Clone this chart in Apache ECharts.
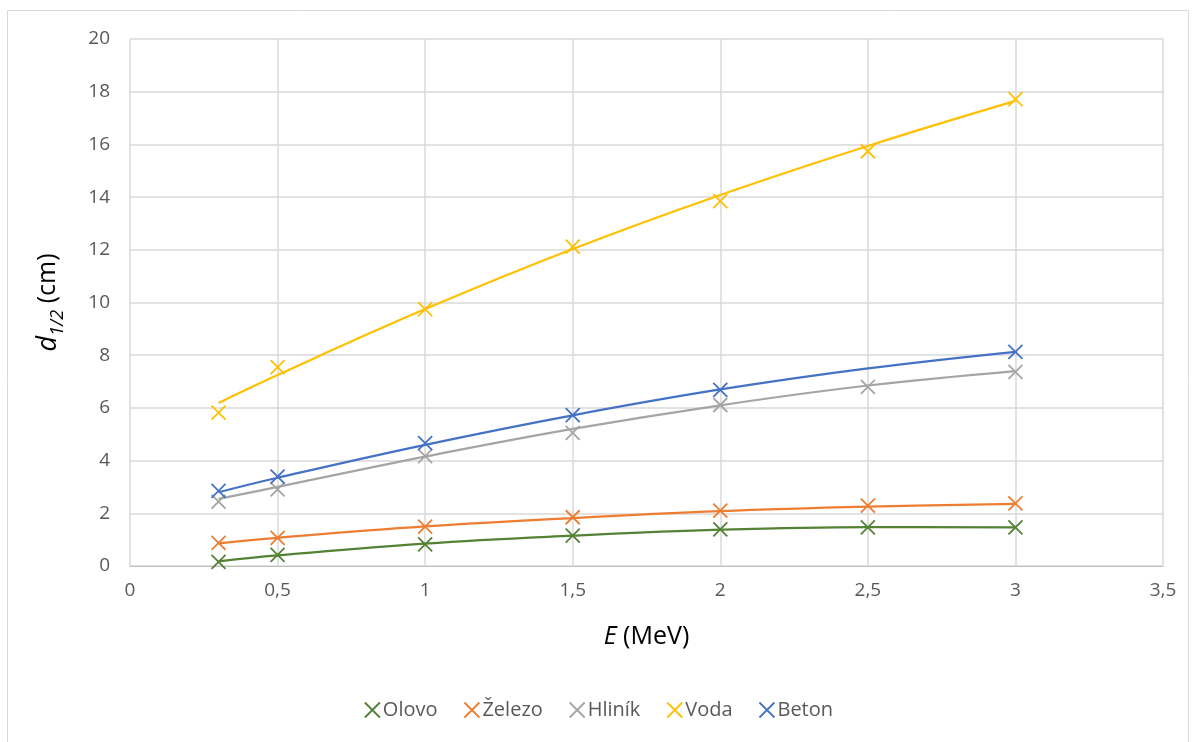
<!DOCTYPE html>
<html>
<head>
<meta charset="utf-8">
<script src="https://cdn.jsdelivr.net/npm/echarts@6/dist/echarts.min.js"></script>
<style>
  html, body { margin: 0; padding: 0; background: #fff; }
  #chart { width: 1197px; height: 742px; }
</style>
</head>
<body>
<div id="chart"></div>
<script>
// energie (MeV)
const energies = [0.3, 0.5, 1, 1.5, 2, 2.5, 3]
const materials = ['Olovo', 'Železo', 'Hliník', 'Voda', 'Beton']
const colors = ['#548235', '#ED7D31', '#A5A5A5', '#FFC000', '#4472C4']

// namerene body d1/2 (cm), null = chybi
const olovo = [0.16, 0.42, 0.82, 1.15, 1.39, 1.47, 1.47]
const zelezo = [0.88, 1.07, 1.49, 1.85, 2.10, 2.29, 2.38]
const hlinik = [2.44, 2.91, 4.17, 5.05, 6.11, 6.80, 7.37]
const voda = [5.82, 7.55, 9.75, 12.12, 13.85, 15.74, 17.72]
const beton = [2.85, 3.39, 4.66, 5.73, 6.68, null, 8.13]

// spojnice trendu
const olovoTrend = [0.18, 0.40, 0.85, 1.15, 1.38, 1.48, 1.47]
const zelezoTrend = [0.86, 1.07, 1.50, 1.82, 2.08, 2.25, 2.36]
const hlinikTrend = [2.55, 3.00, 4.15, 5.20, 6.10, 6.85, 7.40]
const vodaTrend = [6.19, 7.25, 9.75, 12.03, 14.08, 15.94, 17.65]
const betonTrend = [2.80, 3.35, 4.60, 5.72, 6.70, 7.50, 8.13]

const points = [olovo, zelezo, hlinik, voda, beton]
const trends = [olovoTrend, zelezoTrend, hlinikTrend, vodaTrend, betonTrend]

const X_SYMBOL = 'path://M0,0L10,10M10,0L0,10'
const FONT = '"Open Sans", "Noto Sans", sans-serif'

const pairs = (vals) => energies.map((e, i) => [e, vals[i]]).filter(p => p[1] !== null)

const series = []
materials.forEach((name, i) => {
  series.push({
    name,
    type: 'line',
    smooth: 0.4,
    showSymbol: false,
    symbol: 'none',
    data: pairs(trends[i]),
    lineStyle: { color: colors[i], width: 2.25 },
    itemStyle: { color: colors[i] },
    silent: true,
    z: 2
  })
  series.push({
    name,
    type: 'scatter',
    symbol: X_SYMBOL,
    symbolSize: 14,
    data: pairs(points[i]),
    itemStyle: { color: 'rgba(0,0,0,0)', borderColor: colors[i], borderWidth: 1.8, opacity: 1 },
    z: 3
  })
})

const chart = echarts.init(document.getElementById('chart'))
chart.setOption({
  animation: false,
  textStyle: { fontFamily: FONT },
  graphic: [{
    type: 'rect',
    shape: { x: 7.5, y: 10.5, width: 1181, height: 760 },
    style: { fill: 'none', stroke: '#d9d9d9', lineWidth: 1 },
    silent: true
  }],
  grid: { left: 130, right: 34, top: 39, bottom: 176 },
  legend: {
    bottom: 17,
    left: 'center',
    itemWidth: 15,
    itemHeight: 15,
    itemGap: 26,
    textStyle: { fontSize: 20, color: '#595959', fontFamily: FONT, padding: [0, 0, 0, -2] },
    data: materials.map((name, i) => ({
      name,
      icon: X_SYMBOL,
      itemStyle: { color: 'rgba(0,0,0,0)', borderColor: colors[i], borderWidth: 1.8 }
    }))
  },
  xAxis: {
    type: 'value',
    min: 0,
    max: 3.5,
    interval: 0.5,
    name: '{i|E} (MeV)',
    nameLocation: 'middle',
    nameGap: 58,
    nameTextStyle: {
      fontSize: 25, color: '#000', fontFamily: FONT,
      rich: { i: { fontSize: 25, fontStyle: 'italic', color: '#000', fontFamily: FONT } }
    },
    axisLine: { show: true, lineStyle: { color: '#bfbfbf', width: 1 } },
    axisTick: { show: false },
    axisLabel: {
      fontSize: 19, color: '#595959', margin: 15,
      formatter: v => String(v).replace('.', ',')
    },
    splitLine: { show: true, lineStyle: { color: '#d9d9d9', width: 1.5 } }
  },
  yAxis: {
    type: 'value',
    min: 0,
    max: 20,
    interval: 2,
    name: '{d|d}{s|1/2}{n| (cm)}',
    nameLocation: 'middle',
    nameRotate: 90,
    nameGap: 63,
    nameTextStyle: {
      rich: {
        d: { fontSize: 27, fontStyle: 'italic', color: '#000', fontFamily: FONT, lineHeight: 38, verticalAlign: 'middle' },
        s: { fontSize: 18, fontStyle: 'italic', color: '#000', fontFamily: FONT, lineHeight: 38, verticalAlign: 'bottom' },
        n: { fontSize: 25, color: '#000', fontFamily: FONT, lineHeight: 38, verticalAlign: 'middle' }
      }
    },
    axisLine: { show: false },
    axisTick: { show: false },
    axisLabel: { fontSize: 19, color: '#595959', margin: 20 },
    splitLine: { show: true, lineStyle: { color: '#d9d9d9', width: 1.5 } }
  },
  series
})
</script>
</body>
</html>
